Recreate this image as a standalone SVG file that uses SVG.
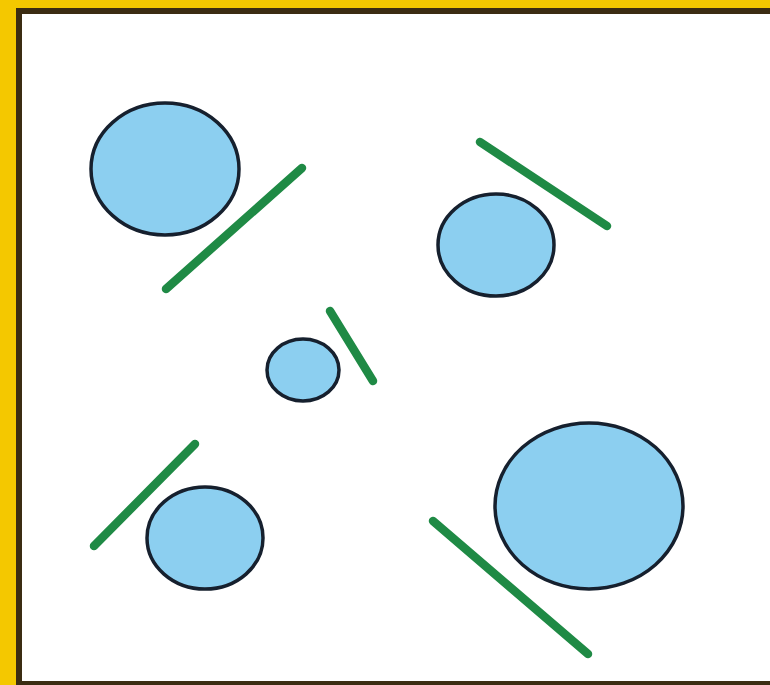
<svg xmlns="http://www.w3.org/2000/svg" width="770" height="685" viewBox="0 0 770 685">
<defs>
<style>
.ball{fill:#8ccff0;stroke:#16202e;stroke-width:3.5}
.rod{stroke:#1f8a45;stroke-width:8.5;stroke-linecap:round;fill:none}
</style>
</defs>
<rect x="0" y="0" width="770" height="685" fill="#f4c800"/>
<rect x="16" y="8" width="760" height="680" fill="#3b2c12"/>
<rect x="22" y="14" width="760" height="667" fill="#ffffff"/>
<g id="node1">
<ellipse class="ball" cx="165" cy="169" rx="74" ry="66"/>
<line class="rod" x1="166" y1="289" x2="302" y2="168"/>
</g>
<g id="node2">
<ellipse class="ball" cx="496" cy="245" rx="58" ry="51"/>
<line class="rod" x1="480" y1="142" x2="607" y2="226"/>
</g>
<g id="node3">
<ellipse class="ball" cx="303" cy="370" rx="36" ry="31"/>
<line class="rod" x1="330" y1="311" x2="373" y2="381"/>
</g>
<g id="node4">
<ellipse class="ball" cx="205" cy="538" rx="58" ry="51"/>
<line class="rod" x1="195" y1="444" x2="94" y2="546"/>
</g>
<g id="node5">
<ellipse class="ball" cx="589" cy="506" rx="94" ry="83"/>
<line class="rod" x1="433" y1="521" x2="588" y2="654"/>
</g>
<g id="connectors"></g>
</svg>
